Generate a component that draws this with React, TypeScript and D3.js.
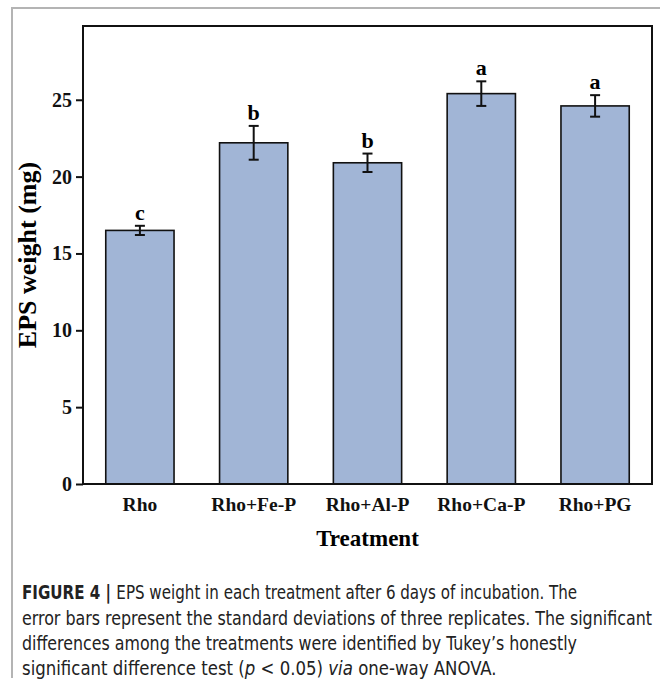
import { useEffect, useRef } from 'react';
import * as d3 from 'd3';

const categories = ['Rho', 'Rho+Fe-P', 'Rho+Al-P', 'Rho+Ca-P', 'Rho+PG'];
const means = [16.5, 22.2, 20.9, 25.4, 24.6];
const sds = [0.3, 1.1, 0.6, 0.8, 0.7];
const letters = ['c', 'b', 'b', 'a', 'a'];
const yTicks = [0, 5, 10, 15, 20, 25];

const captionLines = [
  'EPS weight in each treatment after 6 days of incubation. The',
  'error bars represent the standard deviations of three replicates. The significant',
  'differences among the treatments were identified by Tukey\u2019s honestly',
];

export default function App() {
  const svgRef = useRef<SVGSVGElement>(null);

  useEffect(() => {
    if (!svgRef.current) return;
    d3.select(svgRef.current).selectAll('*').remove();

    const width = 660;
    const height = 685;
    const plot = { left: 83, right: 652, top: 26, bottom: 484 };
    const serif = '"Liberation Serif", "Times New Roman", serif';
    const sans = '"Liberation Sans Narrow", "DejaVu Sans Condensed", "Liberation Sans", sans-serif';

    const svg = d3.select(svgRef.current)
      .attr('width', width)
      .attr('height', height);

    svg.append('rect').attr('width', width).attr('height', height).attr('fill', '#fff');

    // page frame
    svg.append('path')
      .attr('d', `M12,678 V8 H${width}`)
      .attr('fill', 'none')
      .attr('stroke', '#b4b4b4')
      .attr('stroke-width', 2);

    const x = d3.scaleBand()
      .domain(categories)
      .range([plot.left, plot.right])
      .paddingInner(0.4)
      .paddingOuter(0.2);

    const y = d3.scaleLinear()
      .domain([0, 29.8])
      .range([plot.bottom, plot.top]);

    // bars
    svg.selectAll('rect.bar')
      .data(categories)
      .enter()
      .append('rect')
      .attr('class', 'bar')
      .attr('x', d => x(d) as number)
      .attr('y', (_, i) => y(means[i]))
      .attr('width', x.bandwidth())
      .attr('height', (_, i) => y(0) - y(means[i]))
      .attr('fill', '#a1b5d6')
      .attr('stroke', '#111')
      .attr('stroke-width', 1.6);

    // error bars
    const err = svg.append('g').attr('stroke', '#111').attr('stroke-width', 2);
    categories.forEach((c, i) => {
      const cx = (x(c) as number) + x.bandwidth() / 2;
      const y1 = y(means[i] + sds[i]);
      const y2 = y(means[i] - sds[i]);
      err.append('line').attr('x1', cx).attr('x2', cx).attr('y1', y1).attr('y2', y2);
      err.append('line').attr('x1', cx - 5).attr('x2', cx + 5).attr('y1', y1).attr('y2', y1);
      err.append('line').attr('x1', cx - 5).attr('x2', cx + 5).attr('y1', y2).attr('y2', y2);
    });

    // significance letters
    svg.selectAll('text.letter')
      .data(categories)
      .enter()
      .append('text')
      .attr('class', 'letter')
      .attr('x', d => (x(d) as number) + x.bandwidth() / 2)
      .attr('y', (_, i) => y(means[i] + sds[i]) - 6)
      .attr('text-anchor', 'middle')
      .style('font-family', serif)
      .style('font-weight', 'bold')
      .style('font-size', '22px')
      .text((_, i) => letters[i]);

    // plot frame
    svg.append('rect')
      .attr('x', plot.left)
      .attr('y', plot.top)
      .attr('width', plot.right - plot.left)
      .attr('height', plot.bottom - plot.top)
      .attr('fill', 'none')
      .attr('stroke', '#111')
      .attr('stroke-width', 2);

    // y axis
    const yAxis = svg.append('g')
      .attr('transform', `translate(${plot.left},0)`)
      .call(d3.axisLeft(y).tickValues(yTicks).tickSize(7).tickPadding(4).tickFormat(d3.format('d')));
    yAxis.select('.domain').remove();
    yAxis.selectAll('line').attr('stroke', '#111').attr('stroke-width', 2);
    yAxis.selectAll('text')
      .attr('fill', '#111')
      .style('font-family', serif)
      .style('font-weight', 'bold')
      .style('font-size', '20px');

    // x axis
    const xAxis = svg.append('g')
      .attr('transform', `translate(0,${plot.bottom})`)
      .call(d3.axisBottom(x).tickSize(0).tickPadding(13));
    xAxis.select('.domain').remove();
    xAxis.selectAll('text')
      .attr('fill', '#111')
      .style('font-family', serif)
      .style('font-weight', 'bold')
      .style('font-size', '19.5px');

    // axis titles
    svg.append('text')
      .attr('x', (plot.left + plot.right) / 2)
      .attr('y', 546)
      .attr('text-anchor', 'middle')
      .style('font-family', serif)
      .style('font-weight', 'bold')
      .style('font-size', '23px')
      .text('Treatment');

    svg.append('text')
      .attr('transform', `translate(36,255) rotate(-90)`)
      .attr('text-anchor', 'middle')
      .style('font-family', serif)
      .style('font-weight', 'bold')
      .style('font-size', '26px')
      .text('EPS weight (mg)');

    // caption (condensed by a horizontal scale per line)
    const cap = svg.append('g')
      .attr('fill', '#222')
      .style('font-family', sans)
      .style('font-size', '19px');
    const line = (y0: number, sx: number) =>
      cap.append('g').attr('transform', `translate(22,${y0}) scale(${sx},1)`)
        .append('text').attr('x', 0).attr('y', 0);

    const first = line(599, 0.884);
    first.append('tspan').style('font-weight', 'bold').text('FIGURE 4 | ');
    first.append('tspan').text(captionLines[0]);
    line(625, 0.88)
      .attr('textLength', 630 / 0.88).attr('lengthAdjust', 'spacingAndGlyphs')
      .text(captionLines[1]);
    line(650, 0.9)
      .attr('textLength', 555 / 0.9).attr('lengthAdjust', 'spacingAndGlyphs')
      .text(captionLines[2]);
    const last = line(675, 0.97);
    last.append('tspan').text('significant difference test (');
    last.append('tspan').style('font-style', 'italic').text('p');
    last.append('tspan').text(' < 0.05) ');
    last.append('tspan').style('font-style', 'italic').text('via');
    last.append('tspan').text(' one-way ANOVA.');
  }, []);

  return (
    <div style={{ position: 'absolute', left: 0, top: 0 }}>
      <svg ref={svgRef}></svg>
    </div>
  );
}
